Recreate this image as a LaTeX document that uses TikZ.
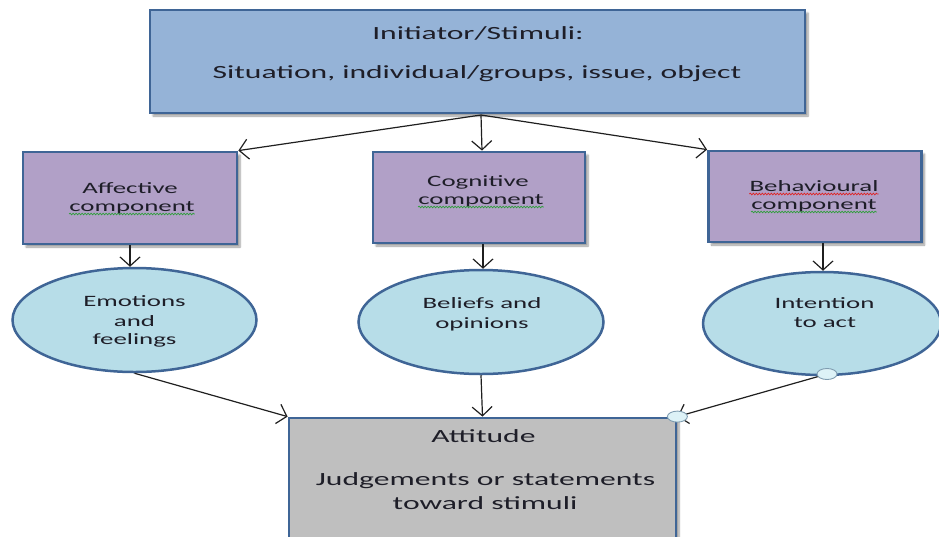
\documentclass[tikz,border=0pt]{standalone}
\usepackage{fontspec}
\setmainfont{Carlito}
\newfontfamily\widefont[FakeStretch=1.7]{Carlito}
\usetikzlibrary{arrows.meta,shapes.geometric,shadows.blur,decorations.pathmorphing}

\definecolor{frameblue}{HTML}{3F6596}
\definecolor{stimfill}{HTML}{95B3D7}
\definecolor{compfill}{HTML}{B1A0C7}
\definecolor{ovalfill}{HTML}{B7DDE8}
\definecolor{attfill}{HTML}{BFBFBF}
\definecolor{inktext}{HTML}{1E1E28}
\definecolor{handlefill}{HTML}{DDF2F7}
\definecolor{handleedge}{HTML}{7F9CB0}
\definecolor{spellgreen}{HTML}{2E9E3A}
\definecolor{spellred}{HTML}{E02020}

\begin{document}
\begin{tikzpicture}[x=1pt,y=-1pt,
  shadowed/.style={blur shadow={shadow xshift=3pt,shadow yshift=-3pt,shadow blur steps=6,shadow opacity=40}},
  panel/.style={rectangle,draw=frameblue,line width=2.8pt,inner sep=0pt,shadowed},
  oval/.style={ellipse,draw=frameblue,line width=2.5pt,fill=ovalfill,inner sep=0pt},
  txt/.style={anchor=base,inner sep=0pt,text=inktext},
  bigtxt/.style={txt,font=\widefont\fontsize{18.6}{22}\selectfont},
  smalltxt/.style={txt,font=\widefont\fontsize{15.8}{19}\selectfont},
  link/.style={draw=black!88,line width=1.2pt,-{Straight Barb[length=9pt,width=20pt,line width=1.2pt]}},
  handle/.style={ellipse,draw=handleedge,line width=0.9pt,fill=handlefill,minimum width=20pt,minimum height=11pt,inner sep=0pt},
  squiggle/.style={line width=0.7pt,decorate,decoration={snake,segment length=3pt,amplitude=0.8pt}}
]
\useasboundingbox (0,0) rectangle (939,536);

% stimulus box and its text
\node[panel,fill=stimfill,minimum width=655pt,minimum height=103pt] (stim) at (477.5,61.5) {};
\node[bigtxt] (stimA) at (478,39) {Initiator/Stimuli:};
\node[bigtxt] (stimB) at (477,78) {Situation, individual/groups, issue, object};

% the three components
\node[panel,fill=compfill,minimum width=214pt,minimum height=92pt] (aff) at (130,198) {};
\node[panel,fill=compfill,minimum width=212pt,minimum height=91pt] (cog) at (479,197.5) {};
\node[panel,fill=compfill,minimum width=213pt,minimum height=91pt] (beh) at (815,196.5) {};

\node[smalltxt] (affA) at (130,193) {Affective};
\node[smalltxt] (affB) at (132,211) {component};
\node[smalltxt] (cogA) at (478,186) {Cognitive};
\node[smalltxt] (cogB) at (481,204) {component};
\node[smalltxt] (behA) at (814,191) {Behavioural};
\node[smalltxt] (behB) at (814,209) {component};

% spelling marks under the component labels
\draw[squiggle,spellgreen] ([yshift=-3pt]affB.base west) -- ([yshift=-3pt]affB.base east);
\draw[squiggle,spellgreen] ([yshift=-3pt]cogB.base west) -- ([yshift=-3pt]cogB.base east);
\draw[squiggle,spellgreen] ([yshift=-3pt]behB.base west) -- ([yshift=-3pt]behB.base east);
\draw[squiggle,spellred] ([yshift=-3pt]behA.base west) -- ([yshift=-3pt]behA.base east);

% outcome ovals
\node[oval,minimum width=244pt,minimum height=104pt] (emo) at (134.5,320) {};
\node[oval,minimum width=245pt,minimum height=104pt] (bel) at (481,322) {};
\node[oval,minimum width=238pt,minimum height=103pt] (inte) at (822,323.5) {};

\node[smalltxt] (emoA) at (134.5,306) {Emotions};
\node[smalltxt] (emoB) at (134.5,326) {and};
\node[smalltxt] (emoC) at (134.5,344) {feelings};
\node[smalltxt] (belA) at (482,308) {Beliefs and};
\node[smalltxt] (belB) at (482,328) {opinions};
\node[smalltxt] (intA) at (824.5,308) {Intention};
\node[smalltxt] (intB) at (825,327) {to act};

% attitude box
\node[panel,fill=attfill,minimum width=387pt,minimum height=130pt] (att) at (482.5,483) {};
\node[bigtxt] (attA) at (483.5,442) {Attitude};
\node[bigtxt] (attB) at (485.5,485) {Judgements or statements};
\node[bigtxt] (attC) at (485,509) {toward stimuli};

% connectors
\coordinate (hub) at (481,115);
\draw[link] (hub) -- (aff.north east);
\draw[link] (hub) -- ([xshift=3pt]cog.north);
\draw[link] (hub) -- (beh.north west);

\draw[link] (aff.south) -- (aff.south |- emo.north);
\draw[link] ([xshift=4pt]cog.south) -- ([xshift=4pt]cog.south |- bel.north);
\draw[link] ([xshift=8pt]beh.south) -- ([xshift=8pt]beh.south |- inte.north);

\draw[link] (emo.south) -- (att.north west);
\draw[link] (bel.south) -- (att.north);
\coordinate (intFoot) at (827,374);
\draw[link] (intFoot) -- (att.north east);
\node[handle] (hA) at (intFoot) {};
\node[handle] (hB) at (att.north east) {};
\end{tikzpicture}
\end{document}
